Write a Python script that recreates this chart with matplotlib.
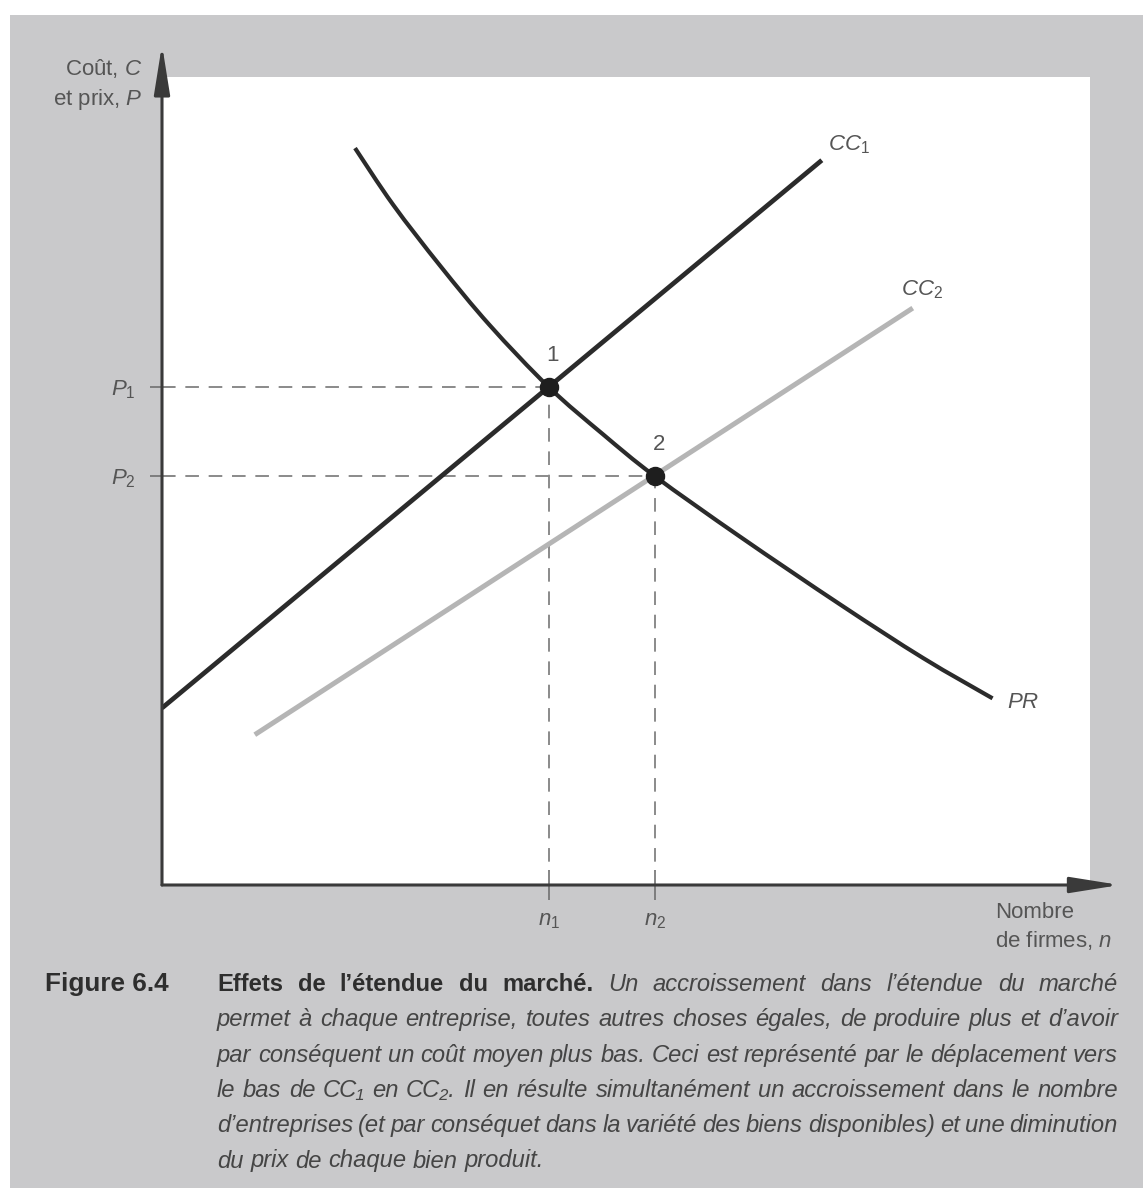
import matplotlib
matplotlib.use("Agg")
import matplotlib.pyplot as plt
from matplotlib import font_manager
from matplotlib.patches import Rectangle, PathPatch
from matplotlib.path import Path

# ---------------------------------------------------------------- fonts
available = {f.name for f in font_manager.fontManager.ttflist}
NARROW = "Liberation Sans Narrow" if "Liberation Sans Narrow" in available else "Liberation Sans"
plt.rcParams["mathtext.fontset"] = "custom"
plt.rcParams["mathtext.rm"] = NARROW
plt.rcParams["mathtext.it"] = NARROW + ":italic"
plt.rcParams["mathtext.bf"] = NARROW + ":bold"

# ---------------------------------------------------------------- data
# CC curves: average cost as a function of the number of firms n
cc1_n = [0.00, 7.11]
cc1_c = [2.19, 8.97]
cc2_n = [1.00, 8.09]
cc2_c = [1.86, 7.14]
# PR curve: price as a function of the number of firms n
pr_n = [2.08, 2.49, 3.00, 3.53, 4.17, 4.75, 5.31, 6.23, 7.31, 8.20, 8.95]
pr_p = [9.12, 8.42, 7.66, 6.93, 6.16, 5.58, 5.06, 4.31, 3.47, 2.81, 2.31]
# equilibria
eq_n = [4.17, 5.31]
eq_p = [6.16, 5.06]
eq_labels = ["1", "2"]
n_ticklabels = [r"$n_1$", r"$n_2$"]
p_ticklabels = [r"$P_1$", r"$P_2$"]
curve_labels = [r"$CC_1$", r"$CC_2$", r"$PR$"]

caption_head = "Figure 6.4"
caption_title = "Effets de l’étendue du marché."
caption_lines = [
    "Un accroissement dans l’étendue du marché",
    "permet à chaque entreprise, toutes autres choses égales, de produire plus et d’avoir",
    "par conséquent un coût moyen plus bas. Ceci est représenté par le déplacement vers",
    "le bas de CC₁ en CC₂. Il en résulte simultanément un accroissement dans le nombre",
    "d’entreprises (et par conséquet dans la variété des biens disponibles) et une diminution",
    "du prix de chaque bien produit.",
]

# ---------------------------------------------------------------- figure
W, H = 1143, 1188
fig = plt.figure(figsize=(W / 100, H / 100), dpi=100)
fig.patch.set_facecolor("white")
fig.patches.append(Rectangle((10 / W, 0), 1 - 10 / W, 1 - 15 / H,
                             transform=fig.transFigure, facecolor="#c9c9cb",
                             edgecolor="none", zorder=-5))


def fx(px):
    return px / W


def fy(py):
    return 1 - py / H


ax = fig.add_axes([fx(162), fy(885), (1090 - 162) / W, (885 - 77) / H])
ax.set_zorder(1)
ax.set_facecolor("white")
ax.set_xlim(0, 10)
ax.set_ylim(0, 10)
for s in ax.spines.values():
    s.set_visible(False)

LABEL_C = "#555555"
LBL_SIZE = 16

# axes with arrow heads
axis_col = "#3a3a3a"
arrow = dict(arrowstyle="-|>,head_length=1.5,head_width=0.24", color=axis_col,
             lw=2.2, mutation_scale=20, shrinkA=0, shrinkB=0)
ax.annotate("", xy=(0, 10.40), xytext=(0, 0), arrowprops=arrow,
            annotation_clip=False, zorder=6)
ax.annotate("", xy=(10.32, 0), xytext=(0, 0), arrowprops=arrow,
            annotation_clip=False, zorder=6)

# dashed guides
for n, p in zip(eq_n, eq_p):
    ax.plot([0, n], [p, p], color="#8a8a8a", lw=1.4, dashes=(7, 5), zorder=2)
    ax.plot([n, n], [0, p], color="#8a8a8a", lw=1.4, dashes=(7, 5), zorder=2)

# straight cost curves
ax.plot(cc2_n, cc2_c, color="#b5b5b5", lw=3.6, solid_capstyle="butt", zorder=3)
ax.plot(cc1_n, cc1_c, color="#2b2b2b", lw=3.4, solid_capstyle="butt", zorder=4)


def smooth_path(xs, ys):
    """Cubic Bezier path passing through every (x, y) point (Catmull-Rom tangents)."""
    pts = list(zip(xs, ys))
    verts = [pts[0]]
    codes = [Path.MOVETO]
    for i in range(len(pts) - 1):
        p0 = pts[max(i - 1, 0)]
        p1 = pts[i]
        p2 = pts[i + 1]
        p3 = pts[min(i + 2, len(pts) - 1)]
        c1 = (p1[0] + (p2[0] - p0[0]) / 6, p1[1] + (p2[1] - p0[1]) / 6)
        c2 = (p2[0] - (p3[0] - p1[0]) / 6, p2[1] - (p3[1] - p1[1]) / 6)
        verts += [c1, c2, p2]
        codes += [Path.CURVE4] * 3
    return Path(verts, codes)


ax.add_patch(PathPatch(smooth_path(pr_n, pr_p), facecolor="none", edgecolor="#2b2b2b",
                       lw=3.0, capstyle="butt", joinstyle="round", zorder=4))

# equilibrium points
ax.plot(eq_n, eq_p, "o", color="#1e1e1e", ms=13, zorder=5)
for n, p, lab in zip(eq_n, eq_p, eq_labels):
    ax.annotate(lab, (n, p), xytext=(4, 32), textcoords="offset pixels",
                ha="center", va="center", fontsize=LBL_SIZE, family=NARROW,
                color=LABEL_C)

# curve labels
ends = [(cc1_n[-1], cc1_c[-1], (6, 16)), (cc2_n[-1], cc2_c[-1], (-12, 18)),
        (pr_n[-1], pr_p[-1], (14, -4))]
for (n, c, off), lab in zip(ends, curve_labels):
    ax.annotate(lab, (n, c), xytext=off, textcoords="offset pixels",
                ha="left", va="center", fontsize=LBL_SIZE, color=LABEL_C)

# ticks
ax.set_xticks(eq_n)
ax.set_xticklabels(n_ticklabels, fontsize=LBL_SIZE, color=LABEL_C)
ax.set_yticks(eq_p)
ax.set_yticklabels(p_ticklabels, fontsize=LBL_SIZE, color=LABEL_C)
ax.tick_params(axis="x", direction="inout", length=21, width=1.3, color="#777777", pad=8)
ax.tick_params(axis="y", direction="inout", length=18, width=1.3, color="#777777", pad=10)

# axis titles
fig.text(fx(143), fy(68), r"Coût, $C$", ha="right", va="center", fontsize=LBL_SIZE,
         family=NARROW, color=LABEL_C)
fig.text(fx(143), fy(100), r"et prix, $P$", ha="right", va="center", fontsize=LBL_SIZE,
         family=NARROW, color=LABEL_C)
fig.text(fx(995), fy(912), "Nombre", ha="left", va="center", fontsize=LBL_SIZE,
         family=NARROW, color=LABEL_C)
fig.text(fx(995), fy(940), r"de firmes, $n$", ha="left", va="center", fontsize=LBL_SIZE,
         family=NARROW, color=LABEL_C)

# ---------------------------------------------------------------- caption
renderer = fig.canvas.get_renderer()
CAP_FAMILY = ["Liberation Sans", "DejaVu Sans"]
BOLD_C = "#2e2e2e"
IT_C = "#454545"
X0, X1 = 217, 1118


def width_of(t):
    return t.get_window_extent(renderer).width


# choose the caption size so that the full lines fill the column
probe = fig.text(0, 0, caption_lines[1], fontsize=16, style="italic", family=CAP_FAMILY)
CAP_SIZE = 16 * (X1 - X0) / width_of(probe) * 0.985
probe.remove()


def set_line(words, x0, x1, base_py, justify):
    """Place a list of (word, style) pairs on one baseline, justified to x1."""
    texts = []
    for word, style in words:
        kw = dict(fontsize=CAP_SIZE, family=CAP_FAMILY, va="baseline", ha="left")
        if style == "bold":
            kw.update(weight="bold", color=BOLD_C)
        else:
            kw.update(style="italic", color=IT_C)
        texts.append(fig.text(0, fy(base_py), word, **kw))
    widths = [width_of(t) for t in texts]
    if justify and len(texts) > 1:
        gap = (x1 - x0 - sum(widths)) / (len(texts) - 1)
    else:
        gap = CAP_SIZE * 1.39 * 0.28
    x = x0
    for t, w in zip(texts, widths):
        t.set_x(fx(x))
        x += w + gap


line_base = [991 + 35.3 * i for i in range(len(caption_lines))]
fig.text(fx(45), fy(line_base[0]), caption_head, fontsize=CAP_SIZE * 1.1, weight="bold",
         family=CAP_FAMILY, color=BOLD_C, va="baseline", ha="left")
first = [(w, "bold") for w in caption_title.split()] + \
        [(w, "italic") for w in caption_lines[0].split()]
set_line(first, X0, X1, line_base[0], True)
for i, line in enumerate(caption_lines[1:], start=1):
    set_line([(w, "italic") for w in line.split()], X0, X1, line_base[i],
             i < len(caption_lines) - 1)

fig.savefig("out.png", dpi=100)
